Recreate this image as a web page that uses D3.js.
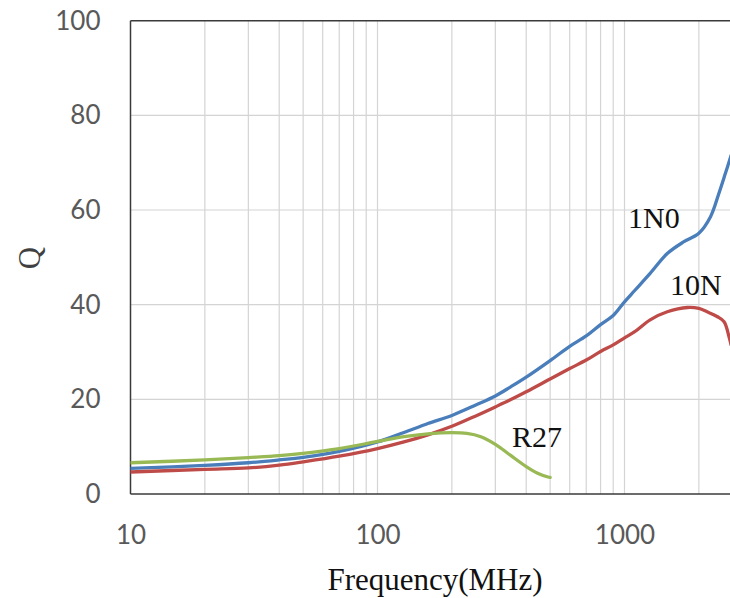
<!DOCTYPE html>
<html>
<head>
<meta charset="utf-8">
<script src="https://cdn.jsdelivr.net/npm/d3@7"></script>
<style>
  html, body { margin: 0; padding: 0; background: #fff; }
  svg { display: block; }
</style>
</head>
<body>
<svg id="chart" width="730" height="598"></svg>
<script>
// Q versus frequency for three chip inductors (log frequency axis)
const freq1N0 = [10, 20, 30, 40, 50, 70, 100, 128, 160, 200, 250, 300, 345, 400, 500, 600, 700, 800, 900, 1000, 1100, 1270, 1490, 1740, 2000, 2230, 2410, 2560, 2700];
const q1N0    = [5.4, 6.05, 6.6, 7.2, 7.75, 9.0, 11.0, 13.0, 14.9, 16.6, 18.8, 20.7, 22.6, 24.7, 28.2, 31.2, 33.4, 35.8, 37.7, 40.6, 43.0, 46.6, 50.8, 53.3, 55.1, 58.6, 63.5, 67.7, 71.5];

const freq10N = [10, 20, 30, 40, 50, 70, 100, 128, 160, 200, 250, 300, 345, 400, 500, 600, 700, 800, 900, 1000, 1100, 1270, 1490, 1800, 2000, 2160, 2370, 2530, 2650, 2700];
const q10N    = [4.65, 5.2, 5.5, 6.1, 6.8, 8.0, 9.6, 11.0, 12.5, 14.3, 16.5, 18.4, 19.9, 21.6, 24.3, 26.5, 28.3, 30.1, 31.5, 33.0, 34.3, 36.8, 38.5, 39.4, 39.2, 38.5, 37.5, 36.4, 33.2, 31.5];

const freqR27 = [10, 20, 30, 40, 50, 70, 100, 128, 160, 200, 230, 262, 300, 345, 400, 445, 490, 500];
const qR27    = [6.6, 7.2, 7.7, 8.1, 8.6, 9.6, 11.1, 12.1, 12.7, 12.95, 12.8, 12.1, 10.5, 8.2, 5.8, 4.4, 3.6, 3.5];

const seriesNames  = ["1N0", "10N", "R27"];
const xTickValues  = [10, 100, 1000];
const yTickValues  = [0, 20, 40, 60, 80, 100];
const xTitle = "Frequency(MHz)";
const yTitle = "Q";

const svg = d3.select("#chart");
const plotLeft = 130.5, plotTop = 20.7, plotBottom = 494, plotRight = 730;

const x = d3.scaleLog().domain([10, 3000]).range([plotLeft, plotLeft + 247 * Math.log10(300)]);
const y = d3.scaleLinear().domain([0, 100]).range([plotBottom, plotTop]);

// minor + major vertical gridlines at every 1..9 × decade
const gridX = [];
for (let d = 10; d <= 1000; d *= 10) for (let k = 1; k <= 9; k++) gridX.push(d * k);
svg.append("g").selectAll("line").data(gridX.filter(v => v > 10 && x(v) < plotRight))
  .join("line")
  .attr("x1", d => x(d)).attr("x2", d => x(d))
  .attr("y1", plotTop).attr("y2", plotBottom)
  .attr("stroke", "#d4d4d4").attr("stroke-width", 1.2);

svg.append("g").selectAll("line").data(yTickValues.filter(v => v > 0 && v < 100))
  .join("line")
  .attr("x1", plotLeft).attr("x2", plotRight)
  .attr("y1", d => y(d)).attr("y2", d => y(d))
  .attr("stroke", "#d4d4d4").attr("stroke-width", 1.2);

// plot frame: left, bottom, top
const frame = svg.append("g").attr("stroke", "#3a3a3a").attr("stroke-width", 1.5).attr("fill", "none");
frame.append("line").attr("x1", plotLeft).attr("x2", plotLeft).attr("y1", plotTop).attr("y2", plotBottom);
frame.append("line").attr("x1", plotLeft).attr("x2", plotRight).attr("y1", plotBottom).attr("y2", plotBottom);
frame.append("line").attr("x1", plotLeft).attr("x2", plotRight).attr("y1", plotTop).attr("y2", plotTop);

// tick labels via d3 axes (axis lines hidden)
const xAxis = svg.append("g").attr("transform", `translate(0,${plotBottom})`)
  .call(d3.axisBottom(x).tickValues(xTickValues).tickFormat(d3.format("d")).tickSize(0).tickPadding(32));
const yAxis = svg.append("g").attr("transform", `translate(${plotLeft},0)`)
  .call(d3.axisLeft(y).tickValues(yTickValues).tickSize(0).tickPadding(30));
[xAxis, yAxis].forEach(a => {
  a.select(".domain").remove();
  a.selectAll("text").attr("font-family", "Lato, 'Open Sans', sans-serif")
    .attr("font-size", 26).attr("fill", "#595959");
});

// data lines
svg.append("clipPath").attr("id", "plotClip").append("rect")
  .attr("x", plotLeft).attr("y", plotTop - 5).attr("width", plotRight - plotLeft).attr("height", plotBottom - plotTop + 5);

const line = d3.line().x(d => x(d[0])).y(d => y(d[1])).curve(d3.curveCatmullRom.alpha(0.5));
const series = [
  { name: seriesNames[0], f: freq1N0, q: q1N0, color: "#4a7ebb" },
  { name: seriesNames[1], f: freq10N, q: q10N, color: "#be4b48" },
  { name: seriesNames[2], f: freqR27, q: qR27, color: "#98b954" }
];
const lines = svg.append("g").attr("clip-path", "url(#plotClip)");
series.forEach(s => {
  lines.append("path")
    .attr("d", line(s.f.map((f, i) => [f, s.q[i]])))
    .attr("fill", "none").attr("stroke", s.color)
    .attr("stroke-width", 3.3).attr("stroke-linejoin", "round").attr("stroke-linecap", "round");
});

// series labels
const serif = "'Liberation Serif', 'Times New Roman', serif";
const labelPos = [[628, 228], [670, 295], [512, 447]];
seriesNames.forEach((n, i) => {
  svg.append("text").attr("x", labelPos[i][0]).attr("y", labelPos[i][1])
    .attr("font-family", serif).attr("font-size", 30).attr("fill", "#111").text(n);
});

// axis titles
svg.append("text").attr("x", 435).attr("y", 590).attr("text-anchor", "middle")
  .attr("font-family", serif).attr("font-size", 31).attr("fill", "#111").text(xTitle);
svg.append("text").attr("transform", "translate(40,258) rotate(-90)").attr("text-anchor", "middle")
  .attr("font-family", serif).attr("font-size", 31).attr("fill", "#404040").text(yTitle);
</script>
</body>
</html>
